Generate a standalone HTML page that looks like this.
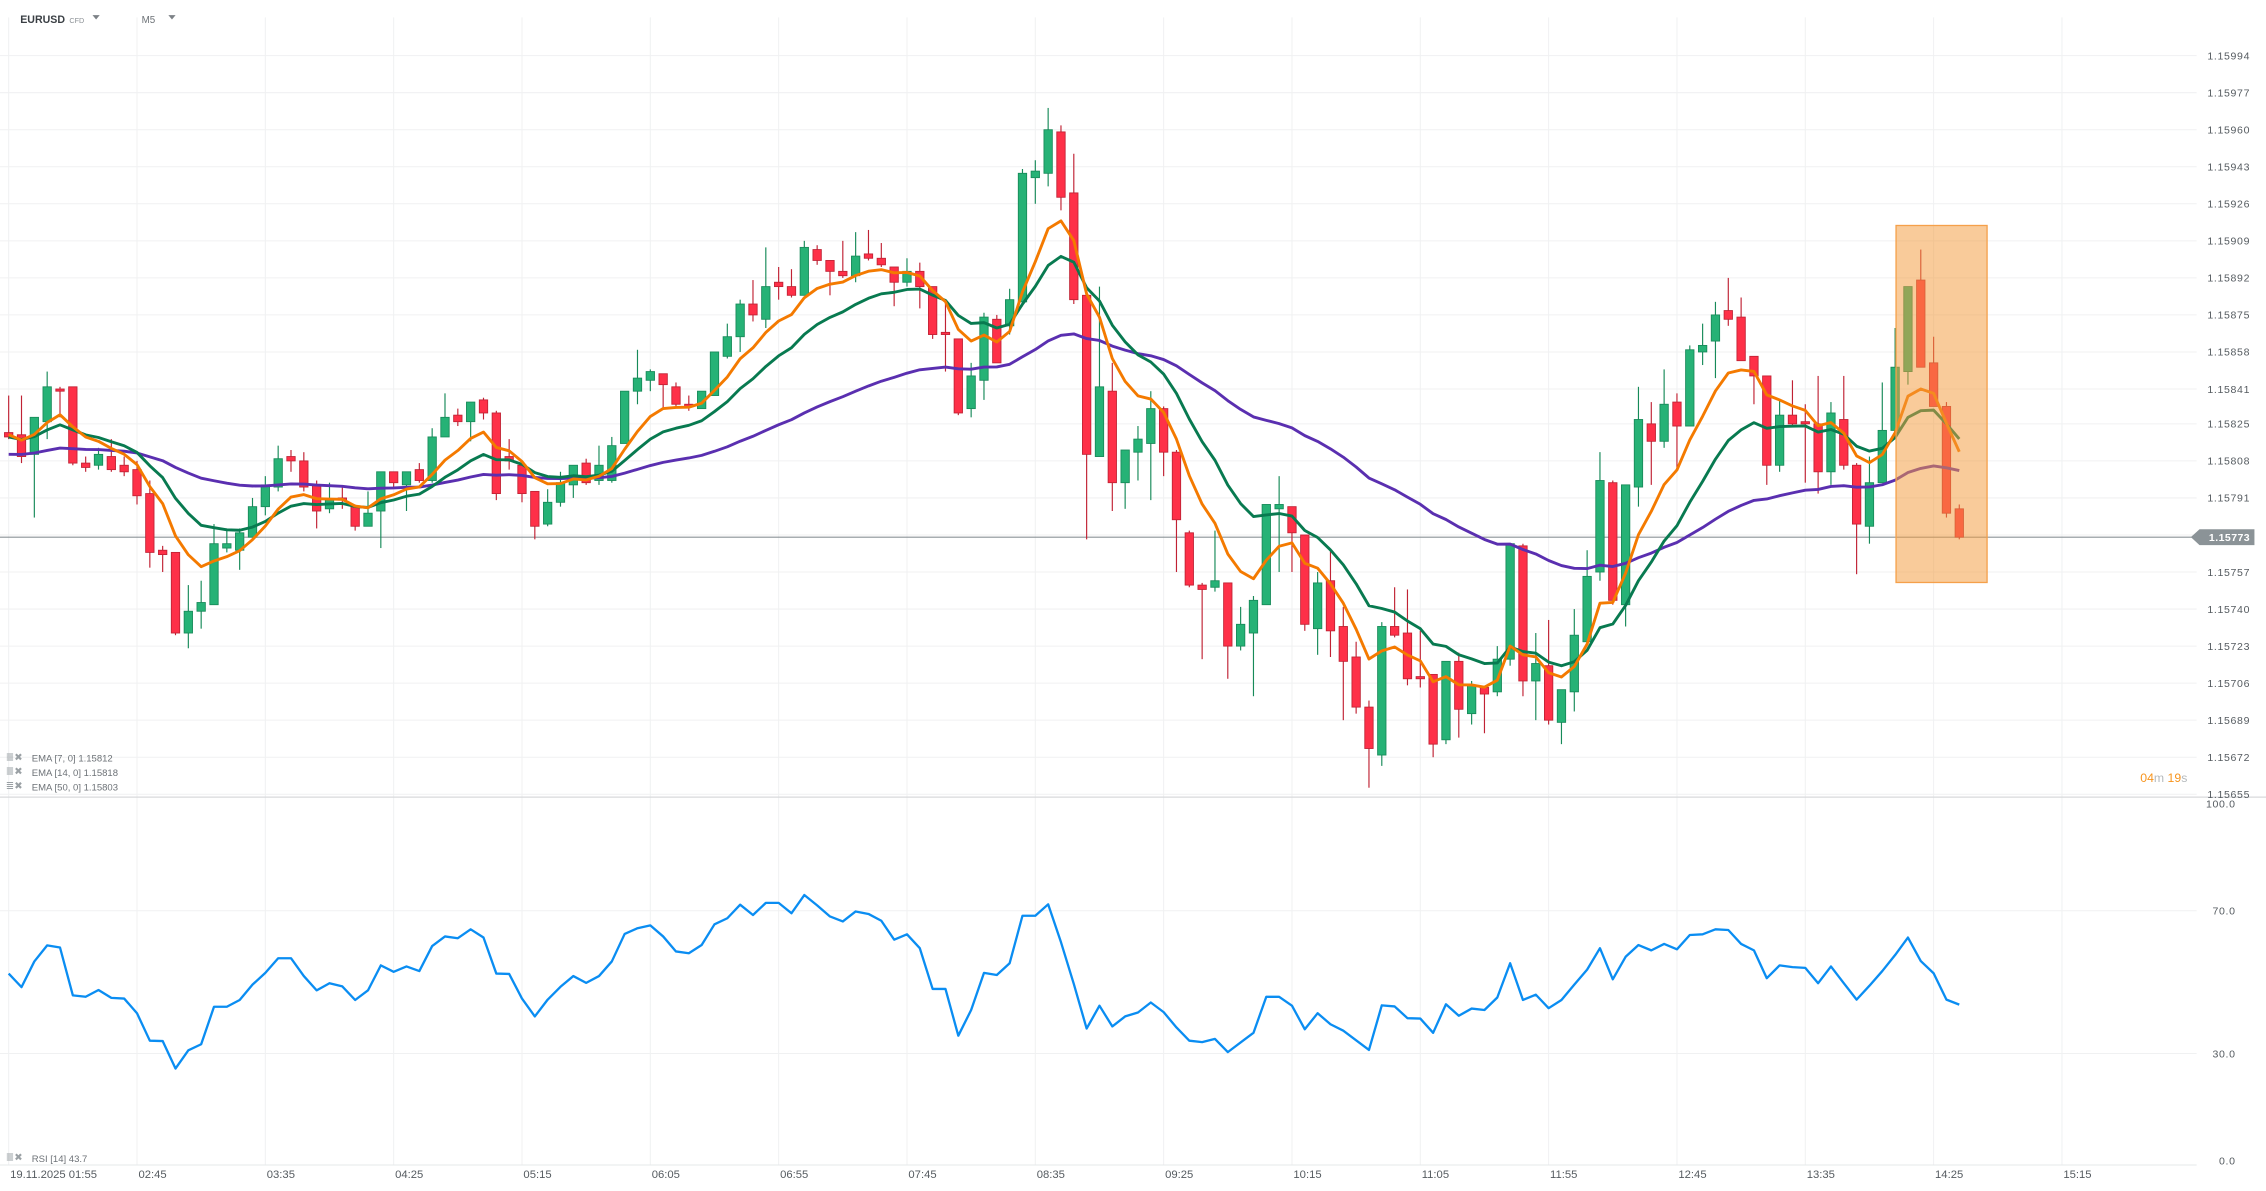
<!DOCTYPE html>
<html><head><meta charset="utf-8"><title>EURUSD M5</title>
<style>
html,body{margin:0;padding:0;background:#fff;}
svg{display:block;}
text{font-family:"Liberation Sans",sans-serif;}
</style></head>
<body>
<svg id="chart" width="2266" height="1191" viewBox="0 0 1568 824" preserveAspectRatio="none" xmlns="http://www.w3.org/2000/svg">
  <rect x="0" y="0" width="1568" height="824" fill="#ffffff"/>
  <g id="grid"></g>
  <g id="candles"></g>
  <g id="emas"></g>
  <g id="rsi"></g>
  <g id="axes"></g>
  <rect x="1312" y="156" width="63" height="247" fill="#f39c3e" fill-opacity="0.52" stroke="#f5a04a" stroke-width="0.9"/>
  <g>
    <text x="14" y="16" font-size="7.6" font-weight="bold" fill="#3a3f44" textLength="31" lengthAdjust="spacingAndGlyphs">EURUSD</text>
    <text x="48" y="16" font-size="5" fill="#8a8f94">CFD</text>
    <polygon points="64,10.5 69,10.5 66.5,13.5" fill="#7c8186"/>
    <text x="98" y="16" font-size="6.8" fill="#6d7277">M5</text>
    <polygon points="116.5,10.5 121.5,10.5 119,13.5" fill="#7c8186"/>
  </g>
  <g font-size="6.6" fill="#6d7277">
    <text x="4" y="526" font-size="7" fill="#9aa0a4">≣✖</text>
    <text x="22" y="527">EMA [7, 0] 1.15812</text>
    <text x="4" y="536" font-size="7" fill="#9aa0a4">≣✖</text>
    <text x="22" y="537">EMA [14, 0] 1.15818</text>
    <text x="4" y="546" font-size="7" fill="#9aa0a4">≣✖</text>
    <text x="22" y="547">EMA [50, 0] 1.15803</text>
    <text x="4" y="803" font-size="7" fill="#9aa0a4">≣✖</text>
    <text x="22" y="804">RSI [14] 43.7</text>
  </g>
  <g>
    <text x="1481" y="541" font-size="8.5" fill="#f7941d">04<tspan fill="#b5b9bc">m</tspan> 19<tspan fill="#b5b9bc">s</tspan></text>
  </g>
</svg>
<script>
const opens=[1.15821,1.15820,1.15811,1.15826,1.15841,1.15842,1.15807,1.15806,1.15810,1.15806,1.15804,1.15793,1.15767,1.15766,1.15729,1.15739,1.15742,1.15768,1.15767,1.15773,1.15787,1.15796,1.15810,1.15808,1.15797,1.15786,1.15791,1.15787,1.15778,1.15785,1.15803,1.15797,1.15804,1.15799,1.15819,1.15829,1.15826,1.15836,1.15830,1.15810,1.15806,1.15794,1.15779,1.15789,1.15797,1.15807,1.15799,1.15799,1.15816,1.15840,1.15845,1.15848,1.15842,1.15834,1.15832,1.15838,1.15856,1.15865,1.15880,1.15873,1.15890,1.15888,1.15884,1.15905,1.15900,1.15895,1.15893,1.15903,1.15901,1.15897,1.15890,1.15895,1.15888,1.15867,1.15864,1.15832,1.15845,1.15873,1.15870,1.15881,1.15938,1.15940,1.15959,1.15931,1.15884,1.15810,1.15840,1.15798,1.15812,1.15816,1.15832,1.15812,1.15775,1.15751,1.15750,1.15752,1.15723,1.15729,1.15742,1.15786,1.15787,1.15774,1.15731,1.15753,1.15732,1.15718,1.15695,1.15673,1.15732,1.15729,1.15709,1.15710,1.15680,1.15716,1.15692,1.15704,1.15702,1.15717,1.15769,1.15707,1.15714,1.15688,1.15702,1.15725,1.15757,1.15798,1.15742,1.15796,1.15825,1.15817,1.15835,1.15824,1.15858,1.15863,1.15877,1.15874,1.15856,1.15847,1.15806,1.15829,1.15826,1.15825,1.15803,1.15827,1.15806,1.15778,1.15798,1.15822,1.15849,1.15891,1.15853,1.15833,1.15786];
const highs=[1.15838,1.15838,1.15828,1.15849,1.15842,1.15842,1.15810,1.15814,1.15818,1.15810,1.15808,1.15799,1.15769,1.15766,1.15751,1.15753,1.15779,1.15777,1.15777,1.15791,1.15801,1.15815,1.15813,1.15812,1.15799,1.15798,1.15796,1.15788,1.15794,1.15803,1.15803,1.15803,1.15807,1.15823,1.15839,1.15832,1.15835,1.15837,1.15831,1.15818,1.15806,1.15794,1.15795,1.15803,1.15806,1.15809,1.15815,1.15819,1.15840,1.15859,1.15850,1.15848,1.15844,1.15838,1.15840,1.15858,1.15871,1.15882,1.15891,1.15906,1.15897,1.15896,1.15909,1.15907,1.15900,1.15909,1.15913,1.15914,1.15908,1.15897,1.15901,1.15899,1.15888,1.15882,1.15864,1.15853,1.15876,1.15875,1.15887,1.15942,1.15946,1.15970,1.15962,1.15949,1.15884,1.15888,1.15853,1.15813,1.15824,1.15840,1.15833,1.15813,1.15776,1.15752,1.15776,1.15752,1.15741,1.15746,1.15788,1.15801,1.15787,1.15774,1.15757,1.15767,1.15741,1.15725,1.15698,1.15734,1.15750,1.15749,1.15730,1.15710,1.15716,1.15720,1.15707,1.15704,1.15723,1.15770,1.15770,1.15729,1.15735,1.15703,1.15740,1.15767,1.15812,1.15799,1.15797,1.15842,1.15835,1.15850,1.15839,1.15861,1.15871,1.15881,1.15892,1.15883,1.15856,1.15847,1.15836,1.15845,1.15834,1.15847,1.15835,1.15847,1.15807,1.15810,1.15844,1.15869,1.15888,1.15905,1.15865,1.15835,1.15788];
const lows=[1.15818,1.15807,1.15782,1.15818,1.15828,1.15806,1.15803,1.15804,1.15803,1.15801,1.15788,1.15759,1.15757,1.15728,1.15722,1.15731,1.15742,1.15766,1.15758,1.15773,1.15783,1.15794,1.15803,1.15794,1.15777,1.15784,1.15786,1.15776,1.15778,1.15768,1.15796,1.15785,1.15798,1.15798,1.15819,1.15824,1.15817,1.15827,1.15790,1.15804,1.15789,1.15772,1.15778,1.15787,1.15791,1.15797,1.15797,1.15798,1.15816,1.15834,1.15840,1.15832,1.15833,1.15831,1.15832,1.15838,1.15855,1.15858,1.15872,1.15869,1.15882,1.15883,1.15884,1.15898,1.15884,1.15892,1.15890,1.15900,1.15897,1.15879,1.15888,1.15878,1.15864,1.15849,1.15829,1.15828,1.15836,1.15853,1.15866,1.15879,1.15926,1.15934,1.15923,1.15880,1.15772,1.15810,1.15785,1.15786,1.15799,1.15790,1.15801,1.15757,1.15750,1.15717,1.15748,1.15708,1.15721,1.15700,1.15742,1.15757,1.15757,1.15730,1.15719,1.15718,1.15689,1.15692,1.15658,1.15668,1.15727,1.15705,1.15704,1.15672,1.15678,1.15681,1.15687,1.15683,1.15700,1.15714,1.15700,1.15689,1.15687,1.15678,1.15693,1.15725,1.15753,1.15742,1.15732,1.15787,1.15797,1.15814,1.15804,1.15824,1.15852,1.15846,1.15870,1.15854,1.15834,1.15797,1.15803,1.15824,1.15798,1.15793,1.15797,1.15804,1.15756,1.15770,1.15798,1.15822,1.15843,1.15851,1.15833,1.15782,1.15772];
const closes=[1.15819,1.15810,1.15828,1.15842,1.15840,1.15807,1.15805,1.15811,1.15804,1.15803,1.15792,1.15766,1.15765,1.15729,1.15739,1.15743,1.15770,1.15770,1.15775,1.15787,1.15797,1.15809,1.15808,1.15796,1.15785,1.15790,1.15790,1.15778,1.15784,1.15803,1.15798,1.15803,1.15799,1.15819,1.15828,1.15826,1.15835,1.15830,1.15793,1.15808,1.15793,1.15778,1.15789,1.15798,1.15806,1.15798,1.15806,1.15815,1.15840,1.15846,1.15849,1.15843,1.15834,1.15833,1.15840,1.15858,1.15865,1.15880,1.15875,1.15888,1.15888,1.15884,1.15906,1.15900,1.15895,1.15893,1.15902,1.15901,1.15898,1.15890,1.15895,1.15888,1.15866,1.15866,1.15830,1.15847,1.15874,1.15853,1.15882,1.15940,1.15941,1.15960,1.15929,1.15882,1.15811,1.15842,1.15798,1.15813,1.15818,1.15832,1.15812,1.15781,1.15751,1.15749,1.15753,1.15723,1.15733,1.15744,1.15788,1.15788,1.15775,1.15733,1.15752,1.15730,1.15716,1.15695,1.15676,1.15732,1.15728,1.15708,1.15708,1.15678,1.15716,1.15694,1.15705,1.15701,1.15717,1.15770,1.15707,1.15715,1.15689,1.15703,1.15728,1.15755,1.15799,1.15744,1.15797,1.15827,1.15817,1.15834,1.15824,1.15859,1.15861,1.15875,1.15873,1.15854,1.15847,1.15806,1.15829,1.15825,1.15825,1.15803,1.15830,1.15806,1.15779,1.15798,1.15822,1.15851,1.15888,1.15851,1.15833,1.15784,1.15773];
const rsiValues=[52.4,48.6,55.8,60.3,59.7,46.3,45.9,47.8,45.6,45.4,41.3,33.6,33.5,25.8,30.9,32.6,43.1,43.1,45.0,49.3,52.6,56.7,56.7,51.7,47.7,49.7,48.8,45.0,47.7,54.7,52.9,54.4,53.1,60.1,62.8,62.3,64.8,62.5,52.4,52.3,45.4,40.4,45.1,48.7,51.7,49.8,51.7,55.8,63.5,65.1,65.9,62.8,58.6,58.1,60.4,66.2,67.9,71.7,68.8,72.2,72.2,69.3,74.4,71.5,68.4,67.0,69.8,69.1,67.2,61.9,63.4,59.5,48.1,48.1,35.0,42.2,52.6,52.0,55.3,68.6,68.6,71.8,61.2,49.5,37.0,43.4,37.6,40.4,41.5,44.3,41.6,37.3,33.6,33.2,34.1,30.4,33.1,35.8,45.9,45.9,43.4,36.8,41.3,38.2,36.4,33.7,31.0,43.5,43.2,39.9,39.8,35.8,43.8,40.6,42.6,42.2,45.7,55.3,45.0,46.5,42.7,45.0,49.3,53.5,59.5,50.8,57.1,60.4,58.9,60.7,59.2,63.2,63.4,64.8,64.6,60.7,58.9,51.1,54.7,54.2,54.0,49.7,54.4,49.7,45.1,49.0,53.1,57.6,62.5,55.9,52.5,45.1,43.7];
const priceTicks=["1.15994","1.15977","1.15960","1.15943","1.15926","1.15909","1.15892","1.15875","1.15858","1.15841","1.15825","1.15808","1.15791","1.15774","1.15757","1.15740","1.15723","1.15706","1.15689","1.15672","1.15655"];
const timeTicks=["19.11.2025  01:55","02:45","03:35","04:25","05:15","06:05","06:55","07:45","08:35","09:25","10:15","11:05","11:55","12:45","13:35","14:25","15:15"];
const rsiTicks=["100.0","70.0","30.0","0.0"];
const emaPeriods=[7,14,50];
const emaSeeds=[1.15820,1.15819,1.15811];
const currentPrice=1.15773;

const NS="http://www.w3.org/2000/svg";
function mk(tag,attrs,parent){const e=document.createElementNS(NS,tag);for(const k in attrs)e.setAttribute(k,attrs[k]);parent.appendChild(e);return e;}
const xScale=k=>6+8.88*k;
const yScale=p=>38.5+(1.15994-p)*150740;
const rsiScale=v=>803-v*2.47;

const grid=document.getElementById('grid');
priceTicks.forEach((t,i)=>{
  const y=yScale(parseFloat(t));
  const l=mk('line',{x1:0,x2:1520,y1:y,y2:y,stroke:'#f0f1f2','stroke-width':0.7},grid);
  
  
});
timeTicks.forEach((t,i)=>{
  const x=xScale(i*10);
  const l=mk('line',{x1:x,x2:x,y1:12,y2:806,stroke:'#f0f1f2','stroke-width':0.7},grid);
  
  
});
[70,30].forEach(v=>{
  const y=rsiScale(v);
  const l=mk('line',{x1:0,x2:1520,y1:y,y2:y,stroke:'#f0f1f2','stroke-width':0.7},grid);
  
  
});
let sep=mk('line',{x1:0,x2:1568,y1:551.5,y2:551.5,stroke:'#d8dadc','stroke-width':0.8},grid);


let bl=mk('line',{x1:0,x2:1520,y1:806,y2:806,stroke:'#e6e8ea','stroke-width':0.7},grid);



let pl=mk('line',{x1:0,x2:1520,y1:yScale(currentPrice),y2:yScale(currentPrice),stroke:'#8b9397','stroke-width':0.8},grid);



const cg=document.getElementById('candles');
for(let k=0;k<closes.length;k++){
  const up=closes[k]>=opens[k];
  const fill=up?'#26b276':'#fe3048';
  const stroke=up?'#178a59':'#c02234';
  const x=xScale(k);
  const g=mk('g',{},cg);
  
  
  mk('line',{x1:x,x2:x,y1:yScale(highs[k]),y2:yScale(lows[k]),stroke:stroke,'stroke-width':0.8},g);
  const yt=yScale(Math.max(opens[k],closes[k])),yb=yScale(Math.min(opens[k],closes[k]));
  mk('rect',{x:x-2.9,y:yt,width:5.8,height:Math.max(yb-yt,0.8),fill:fill,stroke:stroke,'stroke-width':0.6},g);
}

const eg=document.getElementById('emas');
const emaColors=['#f47a00','#087a50','#5a2fb0'];
const emaNames=['ema-7-line','ema-14-line','ema-50-line'];
[2,1,0].forEach(i=>{
  const a=2/(emaPeriods[i]+1);let e=emaSeeds[i];const pts=[];
  for(let k=0;k<closes.length;k++){ if(k>0) e=closes[k]*a+e*(1-a); pts.push(xScale(k).toFixed(2)+','+yScale(e).toFixed(2)); }
  const p=mk('polyline',{points:pts.join(' '),fill:'none',stroke:emaColors[i],'stroke-width':2,'stroke-linejoin':'round'},eg);
  
  
});

const rg=document.getElementById('rsi');
const rpts=rsiValues.map((v,k)=>xScale(k).toFixed(2)+','+rsiScale(v).toFixed(2));
const rl=mk('polyline',{points:rpts.join(' '),fill:'none',stroke:'#0a8df2','stroke-width':1.6,'stroke-linejoin':'round'},rg);



const ag=document.getElementById('axes');
priceTicks.forEach(t=>{
  const tx=mk('text',{x:1557,y:yScale(parseFloat(t))+2.6,'font-size':7.3,fill:'#555b60','text-anchor':'end','letter-spacing':0.45},ag);
  tx.textContent=t;
  
  
});
rsiTicks.forEach(t=>{
  const tx=mk('text',{x:1547,y:rsiScale(parseFloat(t))+2.6,'font-size':7.3,fill:'#555b60','text-anchor':'end','letter-spacing':0.45},ag);
  tx.textContent=t;
  
  
});
timeTicks.forEach((t,i)=>{
  const tx=mk('text',{x:xScale(i*10)+1,y:815,'font-size':7.8,fill:'#555b60','xml:space':'preserve'},ag);
  tx.textContent=t;
  
  
});
const yp=yScale(currentPrice);
const tag=mk('g',{},ag);


mk('polygon',{points:`1516,${yp} 1522,${yp-5.5} 1560,${yp-5.5} 1560,${yp+5.5} 1522,${yp+5.5}`,fill:'#8b9397'},tag);
const tt=mk('text',{x:1557,y:yp+2.6,'font-size':7.3,fill:'#ffffff','text-anchor':'end','font-weight':'bold','letter-spacing':0.3},tag);
tt.textContent=currentPrice.toFixed(5);
</script>
</body></html>
